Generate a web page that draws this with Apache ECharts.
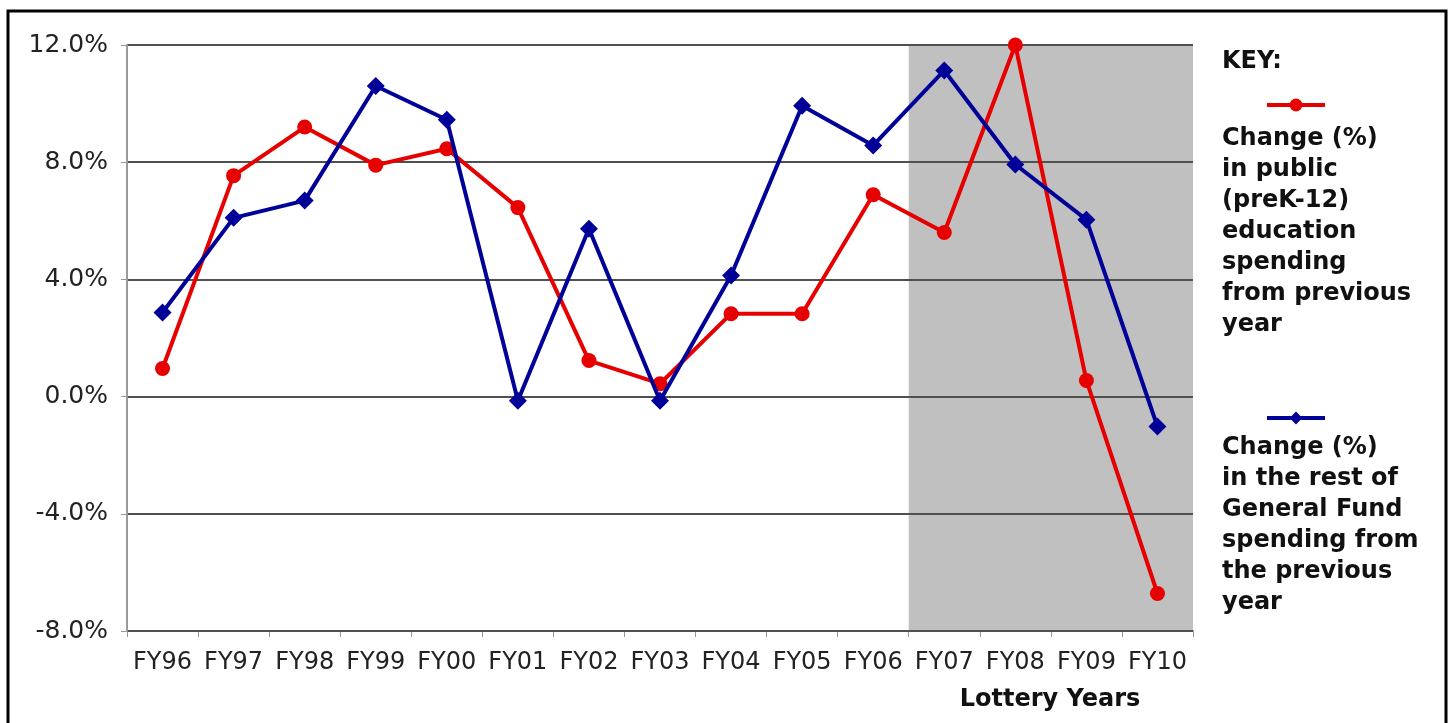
<!DOCTYPE html>
<html>
<head>
<meta charset="utf-8">
<script src="https://cdn.jsdelivr.net/npm/echarts@6/dist/echarts.min.js"></script>
<style>
  html, body { margin: 0; padding: 0; background: #fff; }
  #chart { width: 1452px; height: 723px; }
</style>
</head>
<body>
<div id="chart"></div>
<script>
// Fiscal years on the category axis
const years = ['FY96', 'FY97', 'FY98', 'FY99', 'FY00', 'FY01', 'FY02', 'FY03',
               'FY04', 'FY05', 'FY06', 'FY07', 'FY08', 'FY09', 'FY10'];

// Year-over-year change (%) in public preK-12 education spending
const educationChange = [0.96, 7.54, 9.2, 7.9, 8.46, 6.45, 1.23, 0.44,
                         2.83, 2.83, 6.89, 5.6, 12.0, 0.55, -6.72];

// Year-over-year change (%) in the rest of General Fund spending
const generalFundChange = [2.87, 6.1, 6.69, 10.6, 9.45, -0.14, 5.73, -0.14,
                           4.13, 9.93, 8.57, 11.13, 7.92, 6.04, -1.02];

// Value axis ticks
const yTicks = { min: -8, max: 12, interval: 4 };

// Lottery years span (shaded band)
const lotteryStart = 'FY07';
const lotteryEnd = 'FY10';

const eduName = 'Change (%) in public (preK-12) education spending from previous year';
const gfName = 'Change (%) in the rest of General Fund spending from the previous year';

const font = '"DejaVu Sans", Verdana, sans-serif';
const RED = '#e60000';
const BLUE = '#000099';

const chart = echarts.init(document.getElementById('chart'), null, { renderer: 'canvas' });

const option = {
  backgroundColor: '#ffffff',
  animation: false,
  textStyle: { fontFamily: font },
  grid: { left: 127, right: 259, top: 45, bottom: 92, containLabel: false },
  legend: [
    {
      data: [eduName], left: 1265, top: 97, itemWidth: 58, itemHeight: 16,
      formatter: () => '', selectedMode: false, padding: 0, itemGap: 0,
      lineStyle: { width: 4 }
    },
    {
      data: [gfName], left: 1265, top: 410, itemWidth: 58, itemHeight: 16,
      formatter: () => '', selectedMode: false, padding: 0, itemGap: 0,
      lineStyle: { width: 4 }
    }
  ],
  xAxis: [
    {
      type: 'category',
      data: years,
      boundaryGap: true,
      axisLine: { onZero: false, lineStyle: { color: '#999999', width: 2 } },
      axisTick: { show: true, length: 6, lineStyle: { color: '#999999', width: 1 } },
      axisLabel: { color: '#222', fontSize: 24, margin: 20, interval: 0, fontFamily: font },
      splitLine: { show: false }
    },
    {
      // helper axis used to place the lottery-years band over whole category bands
      type: 'value', min: 0, max: years.length, show: false
    }
  ],
  yAxis: [
    {
      type: 'value',
      min: yTicks.min, max: yTicks.max, interval: yTicks.interval,
      z: 1.5,
      axisLine: { show: true, lineStyle: { color: '#999999', width: 2 } },
      axisTick: { show: true, length: 6, lineStyle: { color: '#999999', width: 1 } },
      axisLabel: {
        color: '#222', fontSize: 25, margin: 19, fontFamily: font,
        formatter: v => v.toFixed(1) + '%'
      },
      splitLine: { show: true, lineStyle: { color: '#505050', width: 2 } }
    }
  ],
  series: [
    {
      name: 'lottery',
      type: 'line',
      xAxisIndex: 1,
      z: 1,
      data: [],
      silent: true,
      markArea: {
        silent: true,
        itemStyle: { color: '#c0c0c0' },
        data: [[
          { xAxis: years.indexOf(lotteryStart) },
          { xAxis: years.indexOf(lotteryEnd) + 1 }
        ]]
      }
    },
    {
      name: eduName,
      type: 'line',
      z: 3,
      data: educationChange,
      symbol: 'circle',
      symbolSize: 15,
      lineStyle: { color: RED, width: 4 },
      itemStyle: { color: RED }
    },
    {
      name: gfName,
      type: 'line',
      z: 4,
      data: generalFundChange,
      symbol: 'diamond',
      symbolSize: 18,
      lineStyle: { color: BLUE, width: 4 },
      itemStyle: { color: BLUE }
    }
  ],
  graphic: [
    {
      type: 'rect', z: 100, silent: true,
      shape: { x: 8, y: 11, width: 1438, height: 730 },
      style: { fill: 'none', stroke: '#000', lineWidth: 3 }
    },
    {
      type: 'text', left: 1222, top: 50, z: 100,
      style: { text: 'KEY:', font: 'bold 24px ' + font, fill: '#111' }
    },
    {
      type: 'text', left: 1222, top: 123, z: 100,
      style: {
        text: 'Change (%)\nin public\n(preK-12)\neducation\nspending\nfrom previous\nyear',
        font: 'bold 24px ' + font, lineHeight: 31, fill: '#111'
      }
    },
    {
      type: 'text', left: 1222, top: 432, z: 100,
      style: {
        text: 'Change (%)\nin the rest of\nGeneral Fund\nspending from\nthe previous\nyear',
        font: 'bold 24px ' + font, lineHeight: 31, fill: '#111'
      }
    },
    {
      type: 'text', x: 1050, y: 700, z: 100,
      style: {
        text: 'Lottery Years', font: 'bold 24px ' + font, fill: '#111',
        textAlign: 'center', textVerticalAlign: 'middle'
      }
    }
  ]
};

chart.setOption(option);
</script>
</body>
</html>
